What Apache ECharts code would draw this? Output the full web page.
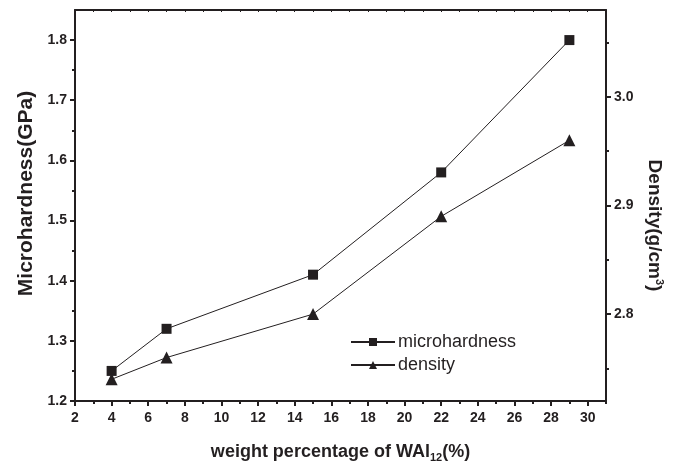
<!DOCTYPE html>
<html>
<head>
<meta charset="utf-8">
<script src="https://cdn.jsdelivr.net/npm/echarts@6/dist/echarts.min.js"></script>
<style>
  html, body { margin: 0; padding: 0; background: #fff; }
  #main { width: 674px; height: 468px; }
</style>
</head>
<body>
<div id="main"></div>
<script>
// 数据：WAl12 质量分数、显微硬度、密度
var weight = [4, 7, 15, 22, 29];
var microhardness = [1.25, 1.32, 1.41, 1.58, 1.80];
var density = [2.74, 2.76, 2.80, 2.89, 2.96];

// 刻度
var xTicks = [2, 4, 6, 8, 10, 12, 14, 16, 18, 20, 22, 24, 26, 28, 30];
var xMinorTicks = [3, 5, 7, 9, 11, 13, 15, 17, 19, 21, 23, 25, 27, 29, 31];
var topTicks = [3, 4, 5, 6, 7, 8, 9, 10, 11, 12, 13, 14, 15, 16, 17, 18, 19, 20, 21, 22, 23, 24, 25, 26, 27, 28, 29, 30];
var hardTicks = [1.2, 1.3, 1.4, 1.5, 1.6, 1.7, 1.8];
var hardMinorTicks = [1.25, 1.35, 1.45, 1.55, 1.65, 1.75];
var densTicks = [2.8, 2.9, 3.0];
var densMinorTicks = [2.75, 2.85, 2.95, 3.05];

var ink = '#231f20';
var font = "'Liberation Sans', Arial, sans-serif";

function pairs(xs, ys) {
  return xs.map(function (x, i) { return [x, ys[i]]; });
}

var chart = echarts.init(document.getElementById('main'));
chart.setOption({
  animation: false,
  textStyle: { fontFamily: font },
  grid: { left: 75, right: 68, top: 10, bottom: 66 },
  legend: {
    orient: 'vertical',
    left: 345,
    top: 328,
    itemWidth: 44,
    itemHeight: 10,
    itemGap: 5,
    textStyle: { fontSize: 18, color: ink, fontFamily: font, padding: [0, 0, 0, -2] },
    data: ['microhardness', 'density']
  },
  xAxis: [
    {
      type: 'value', min: 2, max: 31,
      name: 'weight percentage of WAl{sub|12}(%)',
      nameLocation: 'middle', nameGap: 41,
      nameTextStyle: {
        fontSize: 18, fontWeight: 'bold', color: ink, fontFamily: font,
        rich: { sub: { fontSize: 11, fontWeight: 'bold', color: ink, padding: [10, 0, 0, 0] } }
      },
      axisLine: { lineStyle: { color: ink, width: 2 } },
      axisTick: { customValues: xTicks, length: 5, lineStyle: { color: ink, width: 2 } },
      axisLabel: { customValues: xTicks, margin: 10, fontSize: 14, fontWeight: 'bold', color: ink },
      splitLine: { show: false }
    },
    {
      type: 'value', min: 2, max: 31, position: 'bottom',
      axisLine: { show: false },
      axisTick: { customValues: xMinorTicks, length: 3, lineStyle: { color: ink, width: 2 } },
      axisLabel: { show: false },
      splitLine: { show: false }
    },
    {
      type: 'value', min: 2, max: 31, position: 'top',
      axisLine: { lineStyle: { color: ink, width: 2 } },
      axisTick: { customValues: topTicks, inside: true, length: 2, lineStyle: { color: ink, width: 1 } },
      axisLabel: { show: false },
      splitLine: { show: false }
    }
  ],
  yAxis: [
    {
      type: 'value', min: 1.2, max: 1.85, position: 'left',
      name: 'Microhardness(GPa)',
      nameLocation: 'middle', nameGap: 37,
      nameTextStyle: { fontSize: 21, fontWeight: 'bold', color: ink, fontFamily: font, padding: [0, 0, 0, 24] },
      axisLine: { show: true, lineStyle: { color: ink, width: 2 } },
      axisTick: { customValues: hardTicks, length: 5, lineStyle: { color: ink, width: 2 } },
      axisLabel: { customValues: hardTicks, margin: 8, fontSize: 14, fontWeight: 'bold', color: ink,
        formatter: function (v) { return v.toFixed(1); } },
      splitLine: { show: false }
    },
    {
      type: 'value', min: 2.72, max: 3.08, position: 'right',
      name: 'Density(g/cm{sup|3})',
      nameLocation: 'middle', nameGap: 31, nameRotate: -90,
      nameTextStyle: {
        fontSize: 19, fontWeight: 'bold', color: ink, fontFamily: font, padding: [0, 0, 0, 40],
        rich: { sup: { fontSize: 11, fontWeight: 'bold', color: ink, padding: [0, 0, 10, 0] } }
      },
      axisLine: { show: true, lineStyle: { color: ink, width: 2 } },
      axisTick: { customValues: densTicks, length: 5, lineStyle: { color: ink, width: 2 } },
      axisLabel: { customValues: densTicks, margin: 8, fontSize: 14, fontWeight: 'bold', color: ink,
        formatter: function (v) { return v.toFixed(1); } },
      splitLine: { show: false }
    },
    {
      type: 'value', min: 1.2, max: 1.85, position: 'left',
      axisLine: { show: false },
      axisTick: { customValues: hardMinorTicks, length: 3, lineStyle: { color: ink, width: 2 } },
      axisLabel: { show: false },
      splitLine: { show: false }
    },
    {
      type: 'value', min: 2.72, max: 3.08, position: 'right',
      axisLine: { show: false },
      axisTick: { customValues: densMinorTicks, length: 3, lineStyle: { color: ink, width: 2 } },
      axisLabel: { show: false },
      splitLine: { show: false }
    }
  ],
  series: [
    {
      name: 'microhardness', type: 'line',
      xAxisIndex: 0, yAxisIndex: 0,
      data: pairs(weight, microhardness),
      symbol: 'rect', symbolSize: 10,
      itemStyle: { color: ink },
      lineStyle: { color: ink, width: 1 }
    },
    {
      name: 'density', type: 'line',
      xAxisIndex: 0, yAxisIndex: 1,
      data: pairs(weight, density),
      symbol: 'triangle', symbolSize: 12,
      itemStyle: { color: ink },
      lineStyle: { color: ink, width: 1 }
    }
  ]
});
</script>
</body>
</html>
